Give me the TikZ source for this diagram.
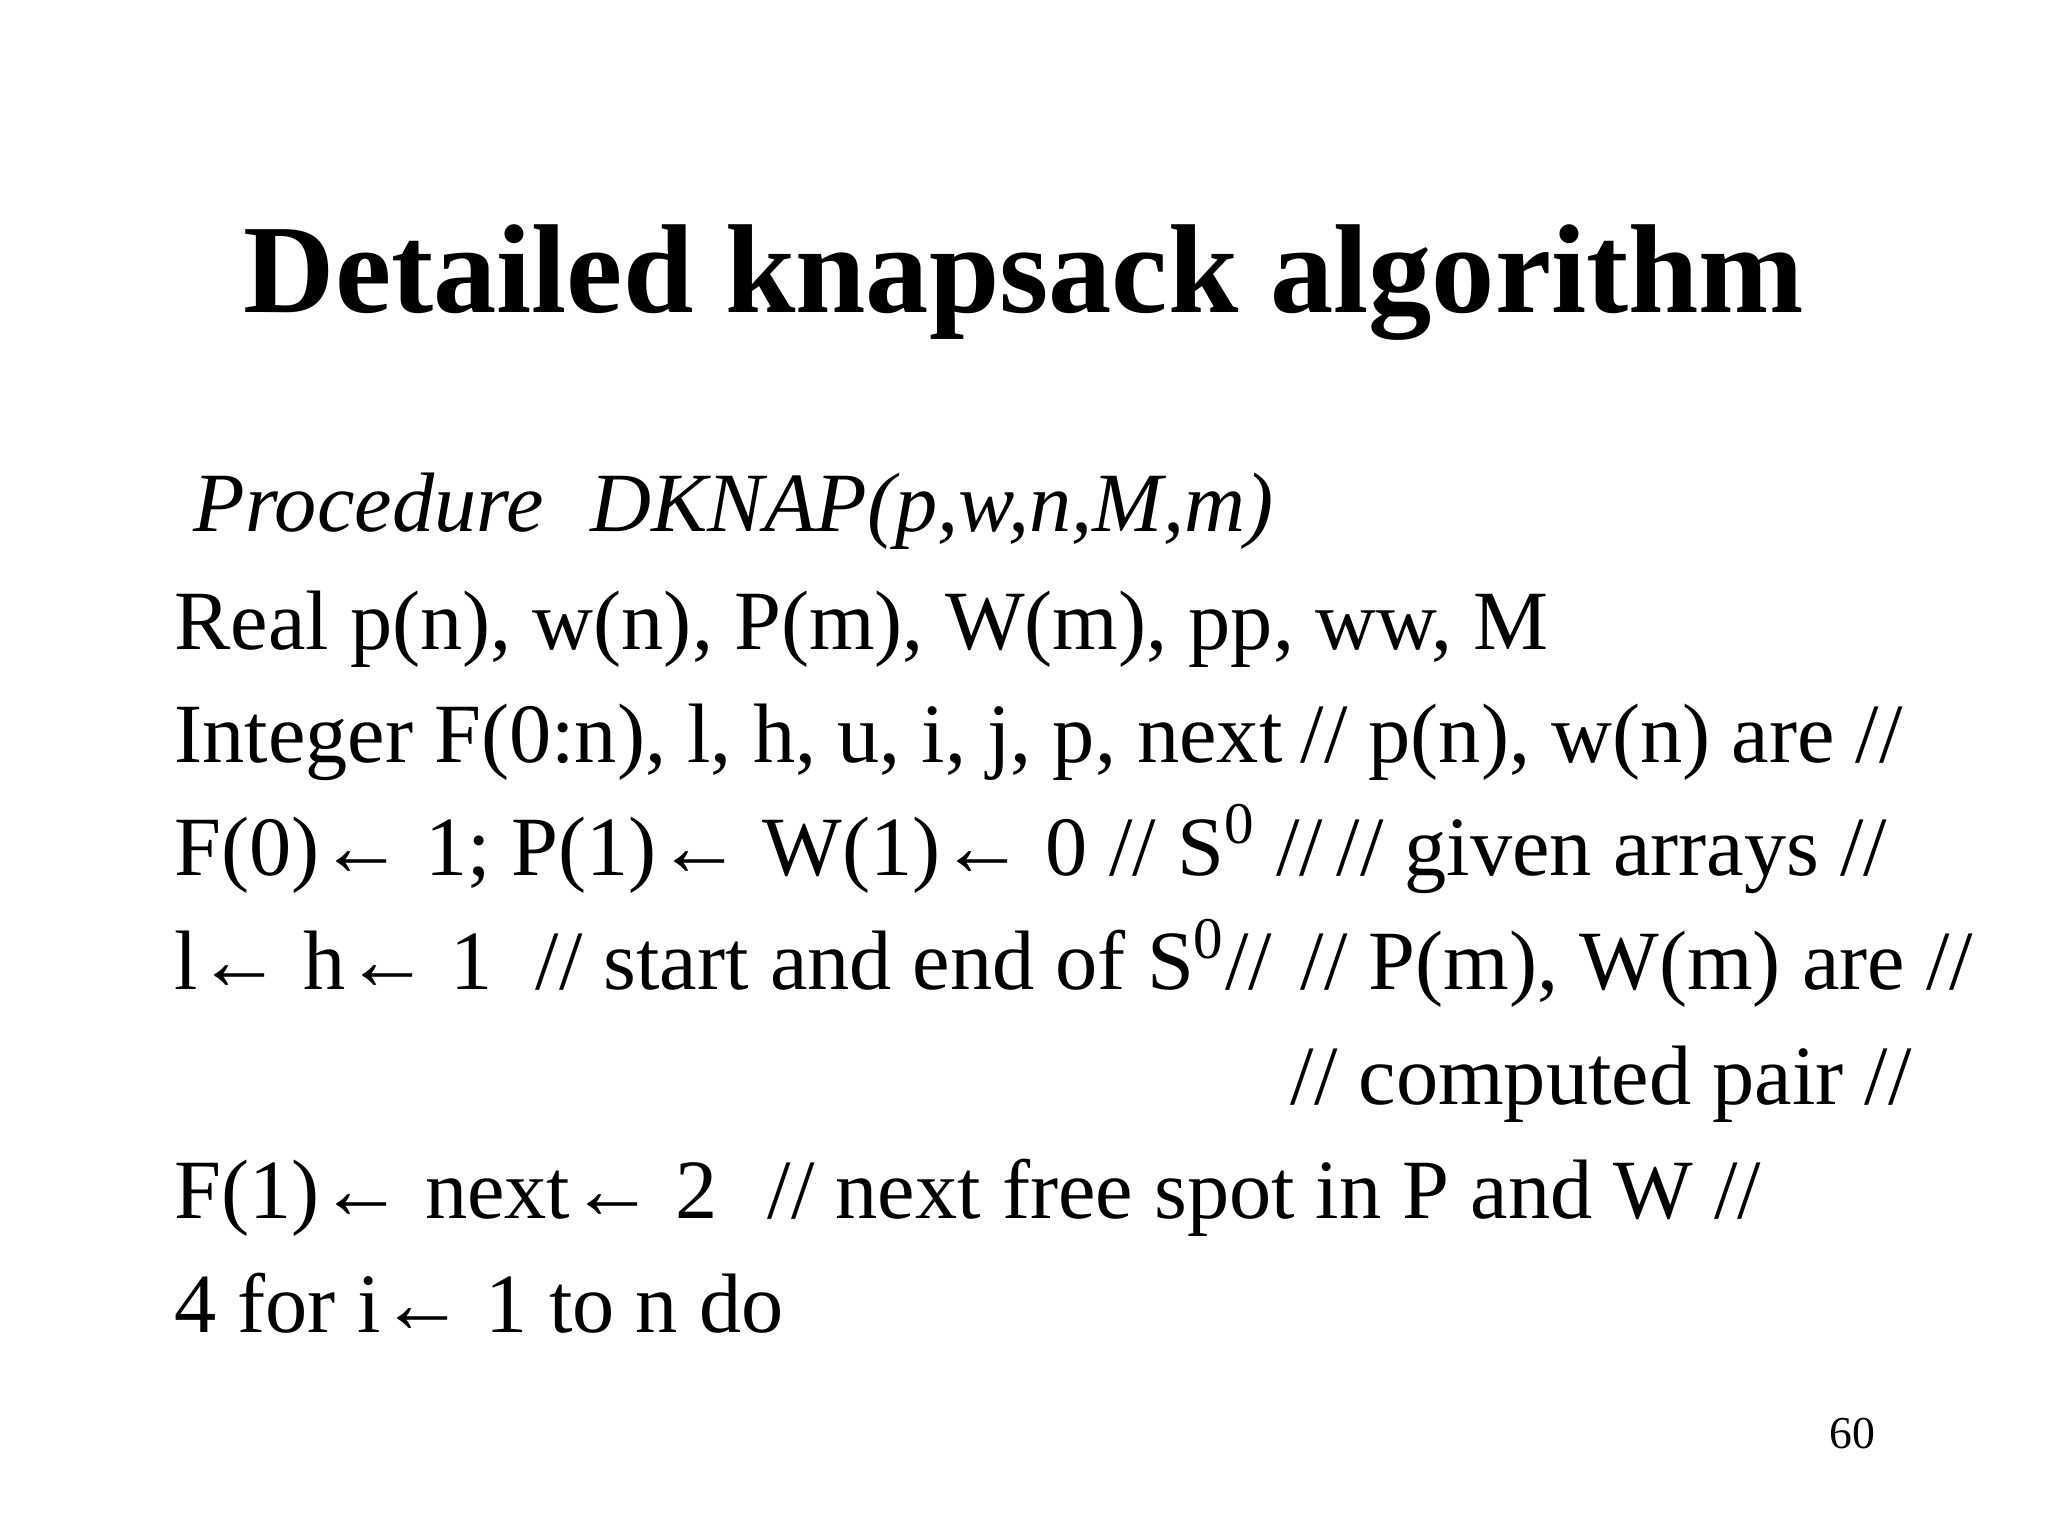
\documentclass[tikz,border=0pt]{standalone}
\usepackage{fontspec}
\setmainfont{Liberation Serif}
\begin{document}
\begin{tikzpicture}[x=1cm,y=1cm,
  body/.style={anchor=base west,inner sep=0pt,font=\fontsize{24}{28}\selectfont}]
\useasboundingbox (0,0) rectangle (20.48,-15.36);
\node[anchor=base,inner sep=0pt,font=\fontsize{36}{40}\selectfont\bfseries] (title) at (10.24,-3.13) {Detailed knapsack algorithm};
\node[body,font=\fontsize{24}{28}\selectfont\itshape] (l1a) at (1.93,-5.32) {Procedure};
\node[body,font=\fontsize{24}{28}\selectfont\itshape] (l1b) at (5.9,-5.32) {DKNAP(p,w,n,M,m)};
\node[body] (l2) at (1.737,-6.49) {Real p(n), w(n), P(m), W(m), pp, ww, M};
\node[body] (l3) at (1.737,-7.63) {Integer F(0:n), l, h, u, i, j, p, next};
\node[body] (l3c) at (13.0,-7.63) {// p(n), w(n) are //};
\node[body] (l4) at (1.737,-8.75) {F(0)← 1; P(1)← W(1)← 0 // S\textsuperscript{0} //};
\node[body] (l4c) at (13.36,-8.75) {// given arrays //};
\node[body] (l5) at (1.737,-9.90) {l← h← 1};
\node[body] (l5b) at (5.35,-9.90) {// start and end of S\textsuperscript{0}//};
\node[body] (l5c) at (13.0,-9.90) {// P(m), W(m) are //};
\node[body] (l6c) at (12.9,-11.04) {// computed pair //};
\node[body] (l7) at (1.737,-12.18) {F(1)← next← 2};
\node[body] (l7b) at (7.67,-12.18) {// next free spot in P and W //};
\node[body] (l8) at (1.737,-13.32) {4 for i← 1 to n do};
\node[anchor=base,inner sep=0pt,font=\fontsize{13}{15}\selectfont] (pg) at (18.52,-14.48) {60};
\end{tikzpicture}
\end{document}
